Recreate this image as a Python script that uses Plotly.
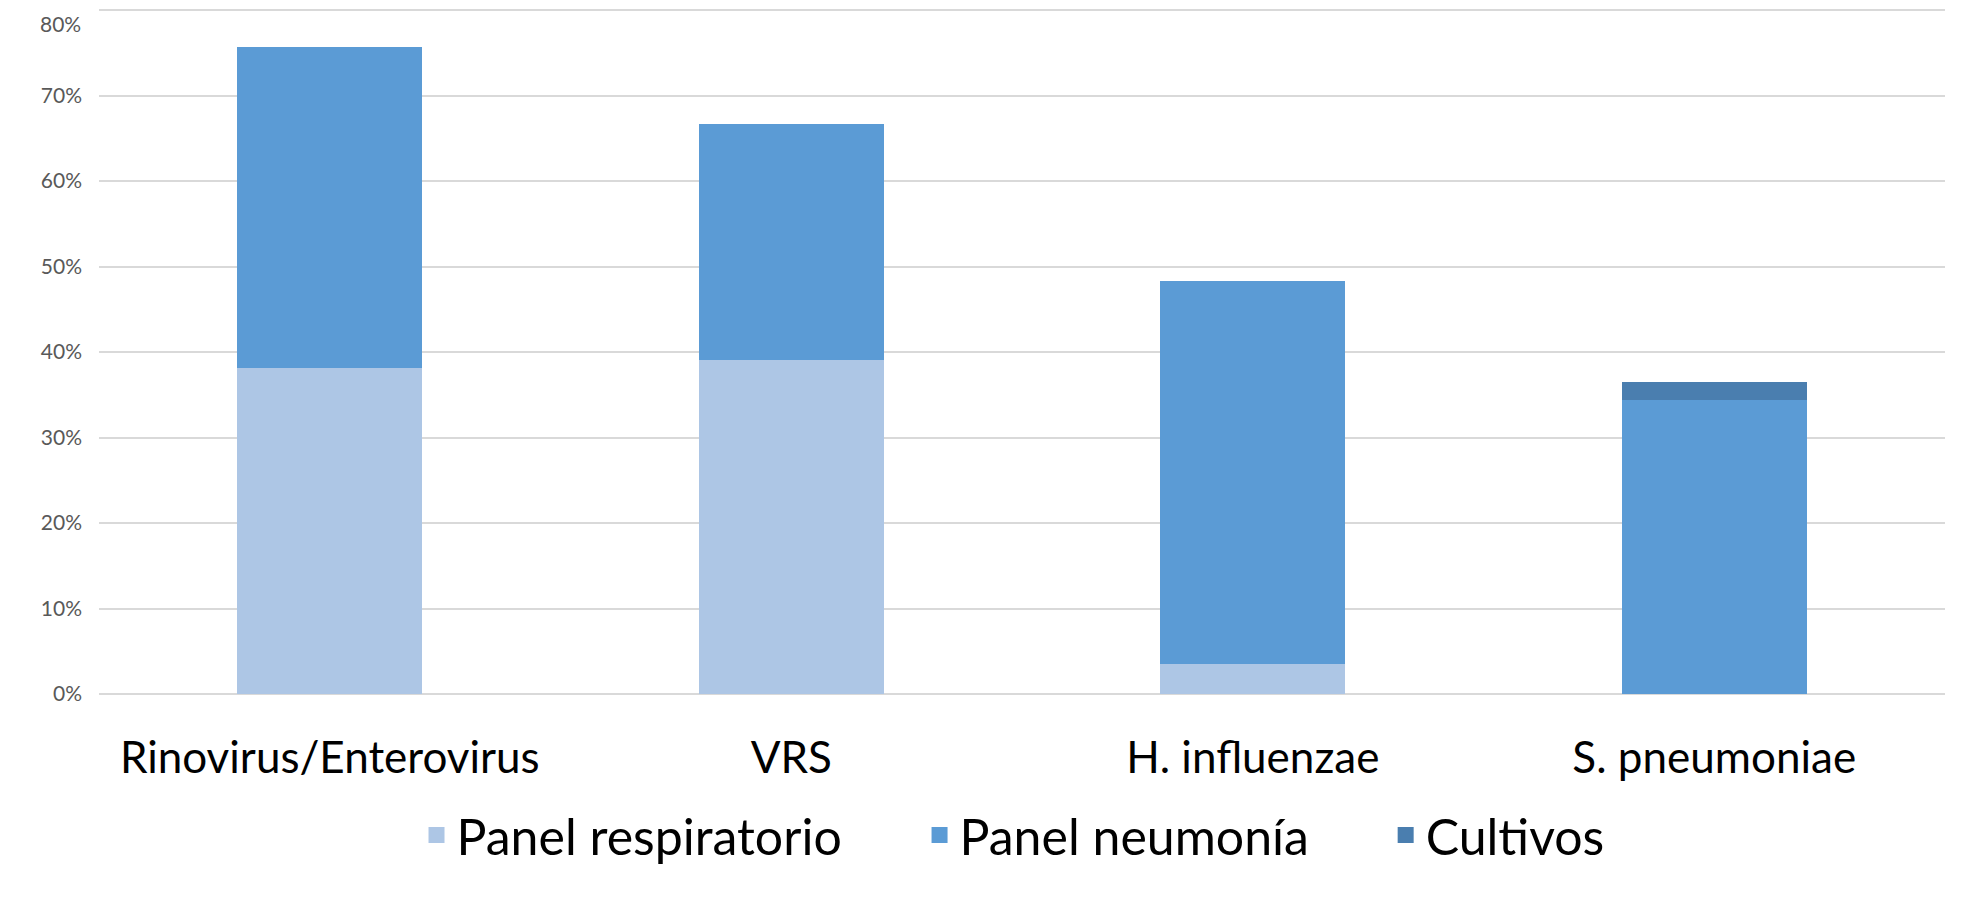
import plotly.graph_objects as go

# Datos (fracciones)
categorias = ["Rinovirus/Enterovirus", "VRS", "H. influenzae", "S. pneumoniae"]
panel_respiratorio = [0.381, 0.391, 0.035, 0.0]
panel_neumonia = [0.376, 0.276, 0.448, 0.344]
cultivos = [0.0, 0.0, 0.0, 0.021]

series = [
    ("Panel respiratorio", panel_respiratorio, "#adc6e5", "legend"),
    ("Panel neumonía", panel_neumonia, "#5b9bd5", "legend2"),
    ("Cultivos", cultivos, "#4a7eaf", "legend3"),
]

fig = go.Figure()
for nombre, valores, color, ley in series:
    fig.add_trace(go.Bar(x=categorias, y=valores, name=nombre, marker_color=color,
                         marker_line_width=0, hoverinfo="skip", showlegend=False))
    # entrada de leyenda con cuadrado más grande que el de las barras
    fig.add_trace(go.Scatter(x=[None], y=[None], mode="markers", name=nombre,
                             marker=dict(symbol="square", size=16, color=color),
                             legend=ley, hoverinfo="skip"))

# una leyenda por serie para reproducir el espaciado del original
leyenda = dict(
    orientation="h",
    xanchor="left",
    y=-0.2056, yanchor="middle",
    font=dict(size=50, family="Lato", color="#000000"),
    itemwidth=30,
    itemsizing="trace",
    bgcolor="rgba(0,0,0,0)",
)

fig.update_layout(
    barmode="stack",
    bargap=0.6,
    width=1967,
    height=915,
    margin=dict(l=91, r=30, t=0, b=229),
    plot_bgcolor="white",
    paper_bgcolor="white",
    font=dict(family="Lato", color="#000000"),
    showlegend=True,
    legend=dict(leyenda, x=0.172),
    legend2=dict(leyenda, x=0.4445),
    legend3=dict(leyenda, x=0.697),
)

# etiqueta del 80% (plotly la oculta por quedar en el borde)
fig.add_annotation(text="80%", xref="paper", x=0, xanchor="right", xshift=-16,
                   yref="y", y=0.8, yanchor="top", yshift=1, showarrow=False,
                   font=dict(size=21, color="#595959"))

fig.update_yaxes(
    range=[0, 0.8025],
    dtick=0.1,
    tickformat=".0%",
    showgrid=True,
    gridcolor="#d9d9d9",
    gridwidth=1.5,
    zeroline=True,
    zerolinecolor="#d9d9d9",
    zerolinewidth=1.5,
    tickfont=dict(size=21, color="#595959"),
    ticklabelstandoff=16,
    automargin=False,
)
fig.update_xaxes(
    showline=False,
    tickfont=dict(size=44, color="#000000"),
    ticklabelstandoff=34,
    automargin=False,
)

fig.write_html("out.html")
